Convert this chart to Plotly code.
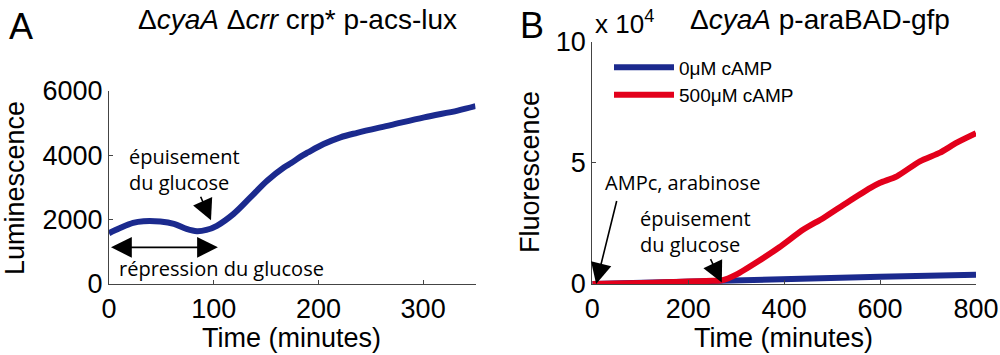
import plotly.graph_objects as go

# ---- Data ----
a_time = [0, 10, 23, 33, 49, 62, 74, 84, 93, 103, 119, 135, 151, 167, 174, 183, 190,
          205, 221, 237, 269, 301, 333, 350]
a_lum = [1580, 1730, 1900, 1950, 1940, 1870, 1710, 1640, 1680, 1810, 2180, 2690, 3210,
         3620, 3760, 3960, 4090, 4350, 4560, 4700, 4940, 5180, 5390, 5530]

b_time_red = [0, 50, 100, 150, 200, 250, 270, 300, 346, 390, 440, 482, 530, 580, 600,
              635, 683, 725, 760, 800]
b_red = [0, 200, 400, 700, 1000, 1300, 1500, 3900, 9400, 15200, 22500, 27300, 33500,
         39700, 41800, 44500, 50700, 54300, 58400, 62300]

b_time_blue = [0, 100, 200, 270, 400, 600, 800]
b_blue = [0, 400, 1000, 1500, 2200, 3000, 3850]

a_xticks = [0, 100, 200, 300]
a_yticks = [0, 2000, 4000, 6000]
b_xticks = [0, 200, 400, 600, 800]
b_yticks = [0, 50000, 100000]
b_yticklabels = ["0", "5", "10"]

BLUE = "#1b2a8e"
RED = "#e3001b"
MAIN_FONT = "Liberation Sans, Arial, sans-serif"
NOTE_FONT = "Open Sans, sans-serif"
AXIS_COLOR = "#444444"

fig = go.Figure()
fig.add_trace(go.Scatter(x=a_time, y=a_lum, mode="lines", line=dict(color=BLUE, width=6, shape="spline"),
                         showlegend=False, xaxis="x", yaxis="y"))
fig.add_trace(go.Scatter(x=b_time_blue, y=b_blue, mode="lines", name="0μM cAMP",
                         line=dict(color=BLUE, width=6), xaxis="x2", yaxis="y2"))
fig.add_trace(go.Scatter(x=b_time_red, y=b_red, mode="lines", name="500μM cAMP",
                         line=dict(color=RED, width=6, shape="spline", smoothing=0.6), xaxis="x2", yaxis="y2"))

axis_common = dict(showline=True, linecolor=AXIS_COLOR, linewidth=1, ticks="inside", ticklen=4,
                   tickcolor=AXIS_COLOR, showgrid=False, zeroline=False, mirror=False, automargin=False,
                   tickfont=dict(family=MAIN_FONT, size=27, color="black"))

fig.update_layout(
    width=1000, height=355, margin=dict(l=0, r=0, t=0, b=0, autoexpand=False),
    paper_bgcolor="white", plot_bgcolor="white",
    xaxis=dict(domain=[0.109, 0.4755], range=[0, 350], tickvals=a_xticks, anchor="y",
               ticklabelstandoff=1, **axis_common),
    yaxis=dict(domain=[0.2, 0.7437], range=[0, 6000], tickvals=a_yticks, anchor="x", **axis_common),
    xaxis2=dict(domain=[0.5923, 0.976], range=[0, 800], tickvals=b_xticks, anchor="y2",
                ticklabelstandoff=1, **axis_common),
    yaxis2=dict(domain=[0.2, 0.8817], range=[0, 100000], tickvals=b_yticks, ticktext=b_yticklabels,
                anchor="x2", **axis_common),
    legend=dict(x=0.609, y=0.864, xanchor="left", yanchor="top", bgcolor="rgba(0,0,0,0)",
                font=dict(family=MAIN_FONT, size=19, color="black"), itemwidth=60,
                tracegroupgap=0),
)

notes = [
    # panel letters and titles
    dict(text="A", x=0.0205, y=1 - 26 / 355, xref="paper", yref="paper", font=dict(family=MAIN_FONT, size=36)),
    dict(text="B", x=0.532, y=1 - 25 / 355, xref="paper", yref="paper", font=dict(family=MAIN_FONT, size=36)),
    dict(text="Δ<i>cyaA</i> Δ<i>crr</i> crp* p-acs-lux", x=0.2975, y=1 - 19 / 355, xref="paper", yref="paper",
         font=dict(family=MAIN_FONT, size=28)),
    dict(text="Δ<i>cyaA</i> p-araBAD-gfp", x=0.82, y=1 - 19 / 355, xref="paper", yref="paper",
         font=dict(family=MAIN_FONT, size=28)),
    dict(text="x 10<sup>4</sup>", x=0.593, y=1 - 22 / 355, xref="paper", yref="paper", xanchor="left",
         font=dict(family=MAIN_FONT, size=26)),
    # axis titles
    dict(text="Time (minutes)", x=0.291, y=1 - 338 / 355, xref="paper", yref="paper",
         font=dict(family=MAIN_FONT, size=27)),
    dict(text="Time (minutes)", x=0.783, y=1 - 338 / 355, xref="paper", yref="paper",
         font=dict(family=MAIN_FONT, size=27)),
    dict(text="Luminescence", x=0.015, y=1 - 188 / 355, xref="paper", yref="paper", textangle=-90,
         font=dict(family=MAIN_FONT, size=27)),
    dict(text="Fluorescence", x=0.53, y=1 - 172 / 355, xref="paper", yref="paper", textangle=-90,
         font=dict(family=MAIN_FONT, size=27)),
    # panel A notes
    dict(text="épuisement<br>du glucose", x=17, y=3550, xref="x", yref="y", xanchor="left", align="left",
         font=dict(family=NOTE_FONT, size=20)),
    dict(text="répression du glucose", x=7.6, y=490, xref="x", yref="y", xanchor="left",
         font=dict(family=NOTE_FONT, size=20)),
    # panel B notes
    dict(text="AMPc, arabinose", x=22, y=42000, xref="x2", yref="y2", xanchor="left",
         font=dict(family=NOTE_FONT, size=20)),
    dict(text="épuisement<br>du glucose", x=95, y=21500, xref="x2", yref="y2", xanchor="left", align="left",
         font=dict(family=NOTE_FONT, size=20)),
]
for n in notes:
    n.setdefault("showarrow", False)
    n.setdefault("xanchor", "center")
    n.setdefault("yanchor", "middle")
    n["font"].setdefault("color", "black")
    fig.add_annotation(**n)

arrows = [
    dict(x=97.4, y=1980, ax=86.9, ay=2760, xref="x", yref="y", axref="x", ayref="y"),
    dict(x=104, y=1140, ax=0.5, ay=1140, xref="x", yref="y", axref="x", ayref="y", arrowside="end+start"),
    dict(x=8, y=0, ax=51.6, ay=34900, xref="x2", yref="y2", axref="x2", ayref="y2"),
    dict(x=270, y=600, ax=245, ay=10900, xref="x2", yref="y2", axref="x2", ayref="y2"),
]
for a in arrows:
    fig.add_annotation(text="", showarrow=True, arrowhead=2, arrowsize=2.6, arrowwidth=1.6,
                       arrowcolor="black", **a)

fig.write_html("out.html", config={"displayModeBar": False},
               post_script="document.body.style.margin='0';")
